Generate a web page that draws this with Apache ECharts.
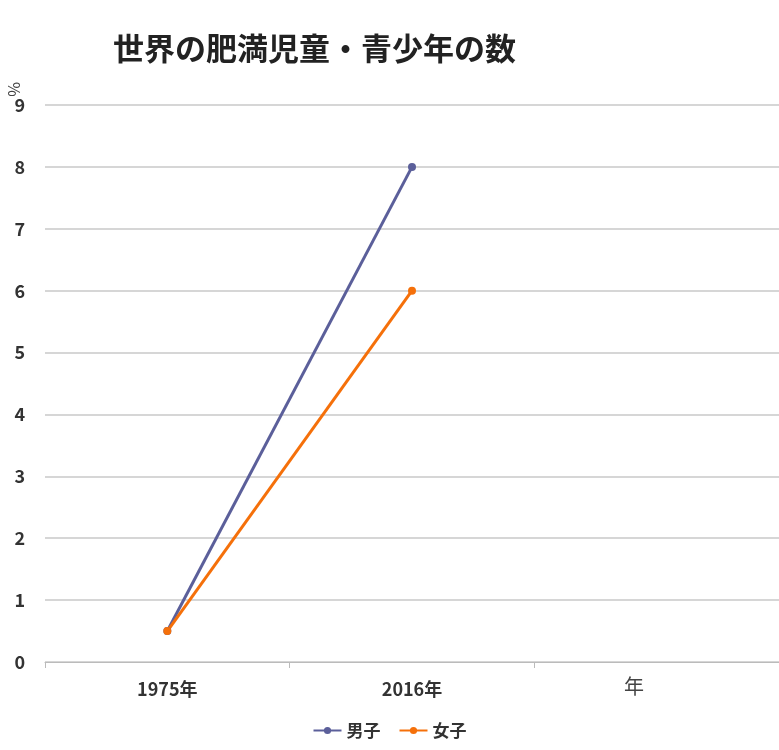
<!DOCTYPE html>
<html><head><meta charset="utf-8">
<script src="https://cdn.jsdelivr.net/npm/echarts@6/dist/echarts.min.js"></script>
<style>html,body{margin:0;padding:0;background:#fff}#c{width:779px;height:750px}</style>
</head><body><div id="c"></div>
<script>
const categories = ['1975年', '2016年', ''];
const boys = [0.5, 8.0, null];
const girls = [0.5, 6.0, null];
const yTicks = [0, 1, 2, 3, 4, 5, 6, 7, 8, 9];
const font = '"Noto Sans CJK JP", "Noto Sans", sans-serif';
const chart = echarts.init(document.getElementById('c'));
chart.setOption({
  animation: false,
  title: { text: '世界の肥満児童・青少年の数', left: 108, top: 28,
    textStyle: { fontFamily: font, fontSize: 31, fontWeight: 'bold', color: '#222' } },
  legend: { bottom: 6, left: 'center', itemWidth: 28, itemHeight: 9, itemGap: 18,
    textStyle: { fontFamily: font, fontSize: 17, fontWeight: 'bold', color: '#333' },
    data: ['男子', '女子'] },
  grid: { left: 45, top: 105, bottom: 88, right: -130, containLabel: false },
  xAxis: { type: 'category', data: categories, boundaryGap: true,
    axisLine: { lineStyle: { color: '#bbb' } },
    axisTick: { show: true, length: 6, lineStyle: { color: '#bbb' } },
    axisLabel: { fontFamily: font, fontSize: 18, fontWeight: 'bold', color: '#333', margin: 18 } },
  yAxis: { type: 'value', min: yTicks[0], max: yTicks[yTicks.length - 1], interval: 1,
    axisLine: { show: false }, axisTick: { show: false },
    splitLine: { lineStyle: { color: '#c8c8c8', width: 1.5 } },
    axisLabel: { fontFamily: font, fontSize: 18, fontWeight: 'bold', color: '#333', margin: 20 } },
  graphic: [
    { type: 'text', left: 624, top: 676, style: { text: '年', font: '20px ' + font, fill: '#444' } },
    { type: 'text', x: 22, y: 82, rotation: -Math.PI / 2, style: { text: '%', font: '16px ' + font, fill: '#444' } }
  ],
  series: [
    { name: '男子', type: 'line', data: boys, symbol: 'circle', symbolSize: 8,
      itemStyle: { color: '#5b5f9a' }, lineStyle: { width: 3, color: '#5b5f9a' } },
    { name: '女子', type: 'line', data: girls, symbol: 'circle', symbolSize: 8,
      itemStyle: { color: '#f5700a' }, lineStyle: { width: 3, color: '#f5700a' } }
  ]
});
</script></body></html>
